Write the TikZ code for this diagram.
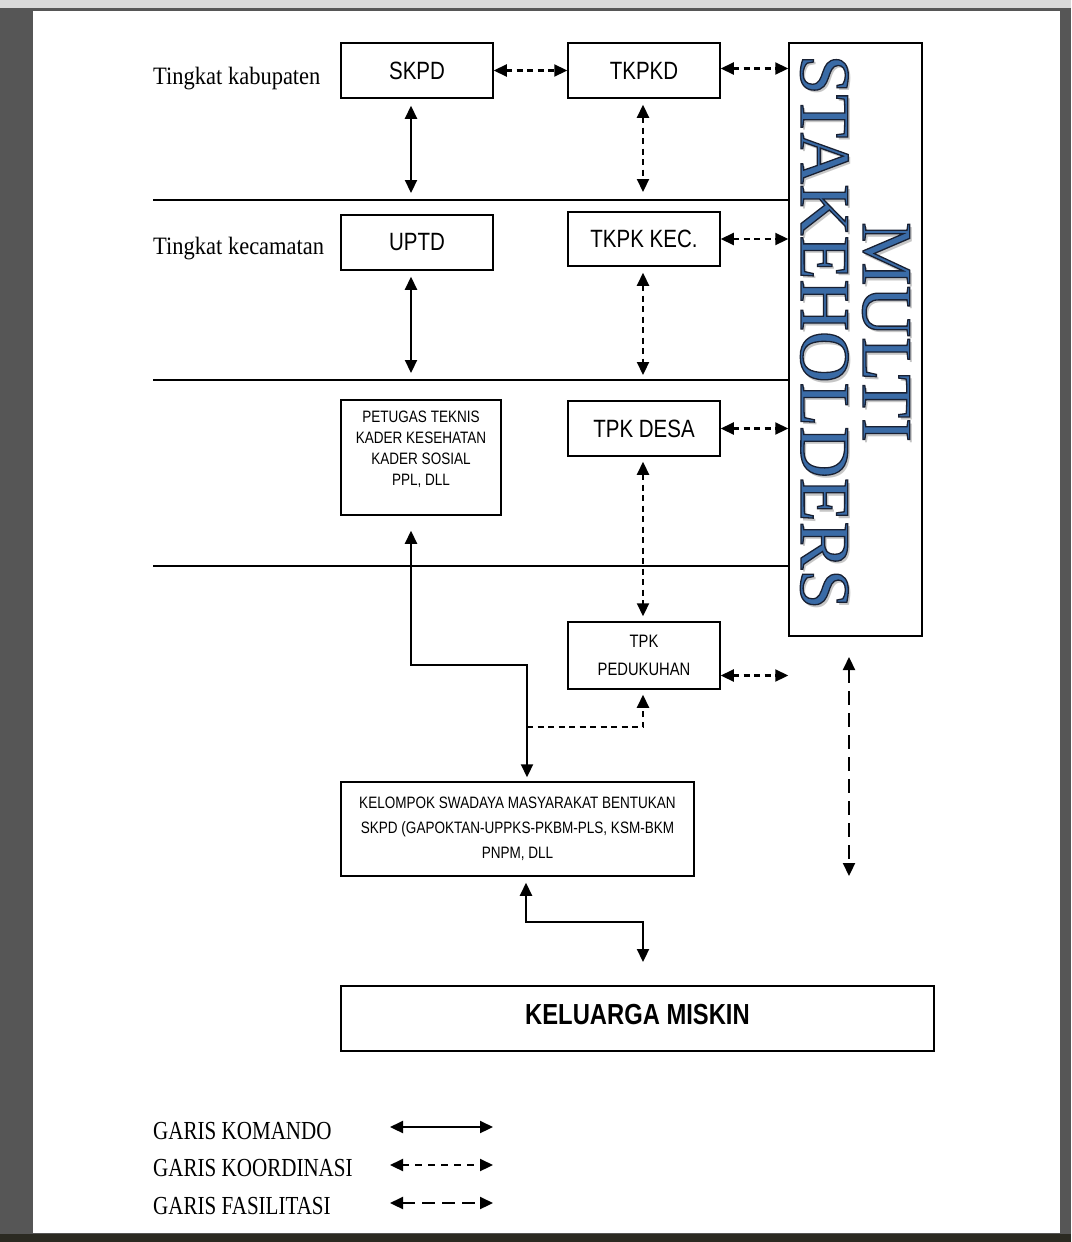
\documentclass[tikz,border=0pt]{standalone}
\usepackage{fontspec}
\setmainfont{Liberation Serif}
\newfontfamily\narrowsans[FakeStretch=0.82]{Liberation Sans}
\newfontfamily\labelserif[FakeStretch=0.9]{Liberation Serif}
\newfontfamily\legendserif[FakeStretch=0.81]{Liberation Serif}
\usetikzlibrary{calc,arrows.meta}
\definecolor{bluetext}{HTML}{3A6BA6}
\definecolor{pagegray}{HTML}{565656}
\definecolor{pagedark}{HTML}{2B2A22}
\newcommand{\outlined}[1]{\special{pdf:literal direct 2 Tr 1.3 w 0.1 0.13 0.2 RG}#1\special{pdf:literal direct 0 Tr}}

\begin{document}
\begin{tikzpicture}[x=1pt, y=-1pt,
    >={Triangle[length=13pt,width=12pt]},
    box/.style={draw, line width=1.5pt, inner sep=0pt, align=center, font=\narrowsans\fontsize{25}{30}\selectfont},
    smallbox/.style={box, font=\narrowsans\fontsize{16.5}{21}\selectfont},
    komando/.style={draw, line width=2.2pt, <->},
    koord/.style={komando, dash pattern=on 6pt off 4.5pt},
    fasil/.style={komando, dash pattern=on 14pt off 8pt},
    level/.style={anchor=base west, inner sep=0pt, font=\labelserif\fontsize{25}{30}\selectfont},
    legend/.style={anchor=base west, inner sep=0pt, font=\legendserif\fontsize{26}{30}\selectfont}]
        % halaman
        \path[fill = pagegray](0,0)rectangle(1071,1242);
        \path[fill = gray!30](0,0)rectangle(1071,8);
        \path[fill = pagedark](0,1234)rectangle(1071,1242);
        \path[fill = white](33,11)rectangle(1060,1233);
        % garis tingkat
        \path[draw, line width=1.8pt](153,200)to(789,200);
        \path[draw, line width=1.8pt](153,380)to(789,380);
        \path[draw, line width=1.8pt](153,566)to(789,566);
        \node[level](kab)at(153,84){Tingkat kabupaten};
        \node[level](kec)at(153,254){Tingkat kecamatan};
        % kotak
        \node[box, minimum width=152pt, minimum height=55pt](skpd)at(417,70.5){SKPD};
        \node[box, minimum width=152pt, minimum height=55pt](tkpkd)at(644,70.5){TKPKD};
        \node[box, minimum width=152pt, minimum height=55pt](uptd)at(417,242.5){UPTD};
        \node[box, minimum width=152pt, minimum height=54pt](tkpkkec)at(644,239){TKPK KEC.};
        \node[smallbox, minimum width=160pt, minimum height=115pt, text depth=19pt](petugas)at(421,457.5){PETUGAS TEKNIS\\KADER KESEHATAN\\KADER SOSIAL\\PPL, DLL};
        \node[box, minimum width=152pt, minimum height=55pt](tpkdesa)at(644,428.5){TPK DESA};
        \node[box, minimum width=152pt, minimum height=67pt, font=\narrowsans\fontsize{18}{28}\selectfont](pedukuhan)at(644,655.5){TPK\\PEDUKUHAN};
        \node[smallbox, minimum width=353pt, minimum height=94pt, font=\narrowsans\fontsize{16.5}{25}\selectfont](ksm)at(517.5,829){KELOMPOK SWADAYA MASYARAKAT BENTUKAN\\SKPD (GAPOKTAN-UPPKS-PKBM-PLS, KSM-BKM\\PNPM, DLL};
        \node[box, minimum width=593pt, minimum height=65pt, text depth=9pt, font=\narrowsans\bfseries\fontsize{29}{34}\selectfont](miskin)at(637.5,1018.5){KELUARGA MISKIN};
        % multi stakeholders
        \node[draw, line width=1.5pt, minimum width=133pt, minimum height=593pt](multi)at(855.5,339.5){};
        \node[rotate=-90, align=center, font=\fontsize{71.5}{62}\selectfont, text=gray!45](shadow)at(858,335){MULTI\\STAKEHOLDERS};
        \node[rotate=-90, align=center, font=\fontsize{71.5}{62}\selectfont, text=bluetext](multitext)at(855,332){\outlined{MULTI}\\\outlined{STAKEHOLDERS}};
        % ujung bebas
        \coordinate(a1)at(411,193);
        \coordinate(a2)at(411,373);
        \coordinate(b1)at(643,192);
        \coordinate(b2)at(643,375);
        \coordinate(c1)at(411,665);
        \coordinate(c2)at(527,665);
        \coordinate(d1)at(527,727);
        \coordinate(d2)at(643,727);
        \coordinate(e1)at(849,657);
        \coordinate(e2)at(849,876);
        \coordinate(f1)at(526,922);
        \coordinate(f2)at(643,922);
        \coordinate(f3)at(643,962);
        % garis komando
        \path[komando, shorten <=7pt](a1 |- skpd.south)to(a1);
        \path[komando, shorten <=6pt](a2 |- uptd.south)to(a2);
        \path[komando, shorten <=4pt, shorten >=15pt](c2 |- ksm.north)--(c2)--(c1)--(c1 |- petugas.south);
        \path[komando, shorten >=6pt](f3)--(f2)--(f1)--(f1 |- ksm.south);
        % garis koordinasi
        \path[koord](skpd)to(tkpkd);
        \path[koord]([yshift=2pt]tkpkd.east)to([yshift=2pt]tkpkd.east -| multi.west);
        \path[koord](tkpkkec.east)to(tkpkkec.east -| multi.west);
        \path[koord](tpkdesa.east)to(tpkdesa.east -| multi.west);
        \path[koord]([yshift=-20pt]pedukuhan.east)to([yshift=-20pt]pedukuhan.east -| multi.west);
        \path[koord, shorten <=6pt](b1 |- tkpkd.south)to(b1);
        \path[koord, shorten <=6pt](b2 |- tkpkkec.south)to(b2);
        \path[koord, shorten <=5pt, shorten >=5pt](tpkdesa.south -| b1)to(pedukuhan.north -| b1);
        \path[koord, ->, shorten >=5pt](d1)--(d2)--(d2 |- pedukuhan.south);
        % garis fasilitasi
        \path[fasil](e1)to(e2);
        % keterangan
        \node[legend](lkomando)at(153,1139){GARIS KOMANDO};
        \node[legend](lkoord)at(153,1176){GARIS KOORDINASI};
        \node[legend](lfasil)at(153,1214){GARIS FASILITASI};
        \coordinate(g1)at(390,1127);
        \coordinate(g2)at(493,1127);
        \path[komando](g1)to(g2);
        \path[koord, dash pattern=on 7pt off 6pt]($(g1)+(0,38)$)to($(g2)+(0,38)$);
        \path[fasil, dash pattern=on 13pt off 7pt]($(g1)+(0,76)$)to($(g2)+(0,76)$);
\end{tikzpicture}
\end{document}
